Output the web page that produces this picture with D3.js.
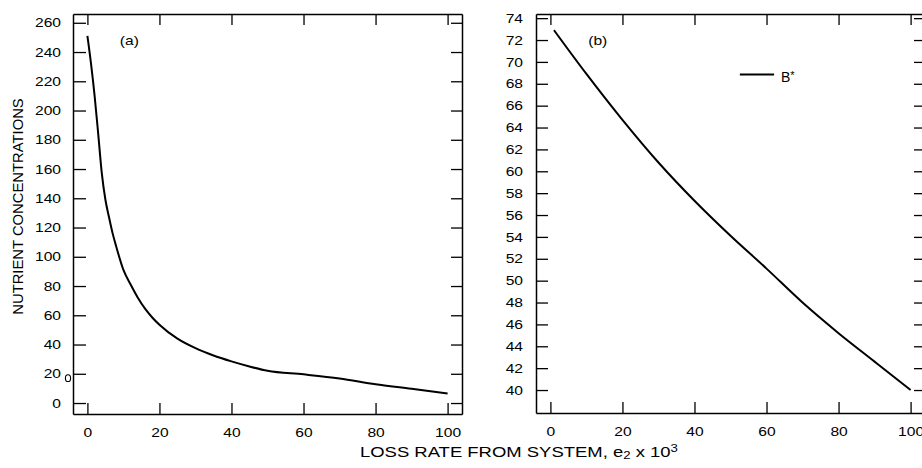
<!DOCTYPE html>
<html>
<head>
<meta charset="utf-8">
<script src="https://cdn.jsdelivr.net/npm/d3@7"></script>
<style>
  html, body { margin: 0; padding: 0; background: #fff; }
  svg { display: block; font-family: "Liberation Sans", Arial, Helvetica, sans-serif; }
</style>
</head>
<body>
<svg id="chart" width="922" height="468"></svg>
<script>
// Loss rate from the system (e2 x 10^3) and the resulting nutrient levels
const lossA = [0, 1, 2, 3, 4, 5, 6, 7, 8, 10, 12, 14, 16, 18, 20, 25, 30, 35, 40, 45, 50, 60, 70, 80, 90, 100];
const nutrientA = [251, 232, 210, 184, 157, 139, 127, 116, 107, 91, 81, 72, 64.5, 58.5, 53.5, 44, 37.5, 32.5, 28.5, 25, 22, 19.6, 16.8, 12.9, 9.8, 6.5];

const lossB = [1, 10, 20, 30, 40, 50, 60, 70, 80, 90, 100];
const bStar = [72.9, 68.9, 64.7, 60.8, 57.3, 54.1, 51.1, 48.0, 45.2, 42.6, 40.0];

// Tick values
const xTickVals = [0, 20, 40, 60, 80, 100];
const yTickValsA = [0, 20, 40, 60, 80, 100, 120, 140, 160, 180, 200, 220, 240, 260];
const yTickValsB = [40, 42, 44, 46, 48, 50, 52, 54, 56, 58, 60, 62, 64, 66, 68, 70, 72, 74];

const panelLabels = ["(a)", "(b)"];
const legendLabel = "B";
const xTitle = ["LOSS RATE FROM SYSTEM, e", "2", " x 10", "3"];
const yTitle = "NUTRIENT CONCENTRATIONS";

const svg = d3.select("#chart");
const FONT = 13;
const STRETCH = 1.2;

const panels = [
  {
    x: d3.scaleLinear().domain([-4, 104]).range([73, 462]),
    y: d3.scaleLinear().domain([-7.5, 266]).range([414, 14]),
    yTicks: yTickValsA, xs: lossA, ys: nutrientA, label: panelLabels[0],
    yPad: 12, ySize: 13
  },
  {
    x: d3.scaleLinear().domain([-4, 104]).range([536, 925]),
    y: d3.scaleLinear().domain([37.9, 74.38]).range([413, 14]),
    yTicks: yTickValsB, xs: lossB, ys: bStar, label: panelLabels[1],
    yPad: 13, ySize: 12
  }
];

// widen tick labels horizontally around their anchor
function stretchText(sel, k) {
  sel.each(function () {
    const t = d3.select(this);
    const x = +t.attr("x") || 0;
    t.attr("x", x / k).attr("transform", `scale(${k},1)`);
  });
}

function styleAxis(g) {
  g.attr("font-size", null).attr("font-family", null);
  g.select(".domain").attr("stroke", "#000").attr("stroke-width", 1.5);
  g.selectAll(".tick line").attr("stroke", "#000").attr("stroke-width", 1.3);
  g.selectAll(".tick text").attr("fill", "#000").attr("font-size", FONT);
}

panels.forEach((p, i) => {
  const [x0, x1] = p.x.range();
  const [y0, y1] = p.y.range();

  // bottom axis with labels
  const gb = svg.append("g").attr("transform", `translate(0,${y0})`)
    .call(d3.axisBottom(p.x).tickValues(xTickVals).tickSizeInner(-11).tickSizeOuter(0).tickPadding(14));
  styleAxis(gb);
  stretchText(gb.selectAll(".tick text"), STRETCH);

  // top axis, ticks only
  const gt = svg.append("g").attr("transform", `translate(0,${y1})`)
    .call(d3.axisTop(p.x).tickValues(xTickVals).tickSizeInner(-11).tickSizeOuter(0).tickFormat(""));
  styleAxis(gt);

  // left axis with labels
  const gl = svg.append("g").attr("transform", `translate(${x0},0)`)
    .call(d3.axisLeft(p.y).tickValues(p.yTicks).tickSizeInner(-p.ySize).tickSizeOuter(0).tickPadding(p.yPad));
  styleAxis(gl);
  stretchText(gl.selectAll(".tick text"), STRETCH);

  // right axis, ticks only
  const gr = svg.append("g").attr("transform", `translate(${x1},0)`)
    .call(d3.axisRight(p.y).tickValues(p.yTicks).tickSizeInner(-11).tickSizeOuter(0).tickFormat(""));
  styleAxis(gr);

  // curve
  const line = d3.line()
    .x((d, j) => p.x(p.xs[j]))
    .y(d => p.y(d))
    .curve(d3.curveMonotoneX);
  svg.append("path")
    .datum(p.ys)
    .attr("d", line)
    .attr("fill", "none")
    .attr("stroke", "#000")
    .attr("stroke-width", 2)
    .attr("stroke-linejoin", "round");

  // panel tag
  const tagX = i === 0 ? p.x(9) : p.x(10.5);
  svg.append("text")
    .attr("transform", `translate(${tagX},45) scale(${STRETCH},1)`)
    .attr("font-size", FONT)
    .attr("fill", "#000")
    .text(p.label);
});

// small stray mark beside the left axis of panel (a)
svg.append("ellipse")
  .attr("cx", panels[0].x.range()[0] - 5)
  .attr("cy", panels[0].y(17))
  .attr("rx", 2.6)
  .attr("ry", 3.4)
  .attr("fill", "none")
  .attr("stroke", "#000")
  .attr("stroke-width", 1.1);

// legend in panel (b)
const pb = panels[1];
const legY = pb.y(68.85);
svg.append("line")
  .attr("x1", pb.x(52.6)).attr("x2", pb.x(62.1))
  .attr("y1", legY).attr("y2", legY)
  .attr("stroke", "#000").attr("stroke-width", 2);
const leg = svg.append("text")
  .attr("x", pb.x(64)).attr("y", legY + 7.5)
  .attr("font-size", 14)
  .attr("fill", "#000");
leg.append("tspan").text(legendLabel);
leg.append("tspan").attr("font-size", 11).attr("dy", -3).text("*");

// x-axis title, shared
const xt = svg.append("text")
  .attr("font-size", 14)
  .attr("fill", "#000");
xt.append("tspan").text(xTitle[0]);
xt.append("tspan").attr("font-size", 10).attr("dy", 2).text(xTitle[1]);
xt.append("tspan").attr("dy", -2).text(xTitle[2]);
xt.append("tspan").attr("font-size", 10).attr("dy", -5).text(xTitle[3]);
const natural = xt.node().getComputedTextLength();
xt.attr("transform", `translate(360,457) scale(${318 / natural},1)`);

// y-axis title
svg.append("text")
  .attr("transform", "translate(23,206.5) rotate(-90)")
  .attr("text-anchor", "middle")
  .attr("font-size", 14.8)
  .attr("fill", "#000")
  .text(yTitle);
</script>
</body>
</html>
